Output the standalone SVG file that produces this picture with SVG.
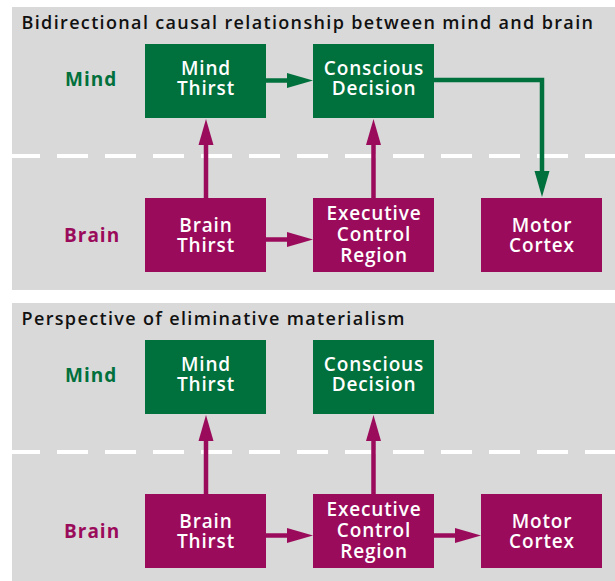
<svg xmlns="http://www.w3.org/2000/svg" width="615" height="581" viewBox="0 0 615 581">
<style>
.panel{fill:#d9d9d9}
.dash{stroke:#ffffff;stroke-width:4;stroke-dasharray:31 17;fill:none}
.title{font-family:"Open Sans","Liberation Sans",sans-serif;font-weight:600;font-size:18px;letter-spacing:1.35px;fill:#111111}
.mind{fill:#00703c}
.brain{fill:#9b0b5b}
.nt{font-family:"Open Sans","Liberation Sans",sans-serif;font-weight:600;font-size:19px;letter-spacing:0.85px;fill:#ffffff;text-anchor:middle}
.lbl{font-family:"Open Sans","Liberation Sans",sans-serif;font-weight:700;font-size:19px;letter-spacing:1px}
.lm{fill:#00703c}
.lb{fill:#9b0b5b}
.cg{stroke:#00703c;stroke-width:4.5;fill:none}
.cm{stroke:#9b0b5b;stroke-width:4.5;fill:none}
</style>
<defs>
<marker id="ahg" markerUnits="userSpaceOnUse" markerWidth="27" markerHeight="16" refX="0" refY="8" orient="auto" viewBox="0 0 27 16">
<path d="M0,0.5 L26,8 L0,15.5 z" fill="#00703c"/>
</marker>
<marker id="ahm" markerUnits="userSpaceOnUse" markerWidth="27" markerHeight="16" refX="0" refY="8" orient="auto" viewBox="0 0 27 16">
<path d="M0,0.5 L26,8 L0,15.5 z" fill="#9b0b5b"/>
</marker>
</defs>

<g id="panel1">
<rect class="panel" x="12" y="7" width="603" height="283"/>
<line class="dash" x1="9" y1="156" x2="615" y2="156"/>
<text class="title" x="21.5" y="29">Bidirectional causal relationship between mind and brain</text>
<text class="lbl lm" x="65" y="86">Mind</text>
<text class="lbl lb" x="64" y="241.5">Brain</text>
</g>

<g id="panel2">
<rect class="panel" x="12" y="303" width="603" height="278"/>
<line class="dash" x1="9" y1="452" x2="615" y2="452"/>
<text class="title" x="21.5" y="325">Perspective of eliminative materialism</text>
<text class="lbl lm" x="65" y="382">Mind</text>
<text class="lbl lb" x="64" y="537.5">Brain</text>
</g>

<g id="connectors">
<line class="cg" x1="266" y1="80.5" x2="287" y2="80.5" marker-end="url(#ahg)"/>
<path class="cg" d="M434,80 H542 V171" marker-end="url(#ahg)"/>
<line class="cm" x1="206" y1="198" x2="206" y2="145" marker-end="url(#ahm)"/>
<line class="cm" x1="373.5" y1="198" x2="373.5" y2="145" marker-end="url(#ahm)"/>
<line class="cm" x1="266" y1="239.5" x2="287" y2="239.5" marker-end="url(#ahm)"/>
<line class="cm" x1="206" y1="494" x2="206" y2="441" marker-end="url(#ahm)"/>
<line class="cm" x1="373.5" y1="494" x2="373.5" y2="441" marker-end="url(#ahm)"/>
<line class="cm" x1="266" y1="535.5" x2="287" y2="535.5" marker-end="url(#ahm)"/>
<line class="cm" x1="434" y1="535.5" x2="455" y2="535.5" marker-end="url(#ahm)"/>
</g>

<g id="p1-mind-thirst">
<rect class="mind" x="145" y="44" width="121" height="74"/>
<text class="nt" x="206" y="74.5">Mind</text>
<text class="nt" x="206" y="95">Thirst</text>
</g>
<g id="p1-conscious-decision">
<rect class="mind" x="313" y="44" width="121" height="74"/>
<text class="nt" x="374" y="74.5">Conscious</text>
<text class="nt" x="374" y="95">Decision</text>
</g>
<g id="p1-brain-thirst">
<rect class="brain" x="145" y="198" width="121" height="74"/>
<text class="nt" x="206" y="231.5">Brain</text>
<text class="nt" x="206" y="252.3">Thirst</text>
</g>
<g id="p1-executive-control-region">
<rect class="brain" x="313" y="198" width="121" height="74"/>
<text class="nt" x="374" y="220">Executive</text>
<text class="nt" x="374" y="241.3">Control</text>
<text class="nt" x="374" y="262.3">Region</text>
</g>
<g id="p1-motor-cortex">
<rect class="brain" x="481" y="198" width="121" height="74"/>
<text class="nt" x="542" y="231.5">Motor</text>
<text class="nt" x="542" y="252.3">Cortex</text>
</g>

<g id="p2-mind-thirst">
<rect class="mind" x="145" y="340" width="121" height="74"/>
<text class="nt" x="206" y="370.5">Mind</text>
<text class="nt" x="206" y="391">Thirst</text>
</g>
<g id="p2-conscious-decision">
<rect class="mind" x="313" y="340" width="121" height="74"/>
<text class="nt" x="374" y="370.5">Conscious</text>
<text class="nt" x="374" y="391">Decision</text>
</g>
<g id="p2-brain-thirst">
<rect class="brain" x="145" y="494" width="121" height="74"/>
<text class="nt" x="206" y="527.5">Brain</text>
<text class="nt" x="206" y="548.3">Thirst</text>
</g>
<g id="p2-executive-control-region">
<rect class="brain" x="313" y="494" width="121" height="74"/>
<text class="nt" x="374" y="516">Executive</text>
<text class="nt" x="374" y="537.3">Control</text>
<text class="nt" x="374" y="558.3">Region</text>
</g>
<g id="p2-motor-cortex">
<rect class="brain" x="481" y="494" width="121" height="74"/>
<text class="nt" x="542" y="527.5">Motor</text>
<text class="nt" x="542" y="548.3">Cortex</text>
</g>
</svg>
